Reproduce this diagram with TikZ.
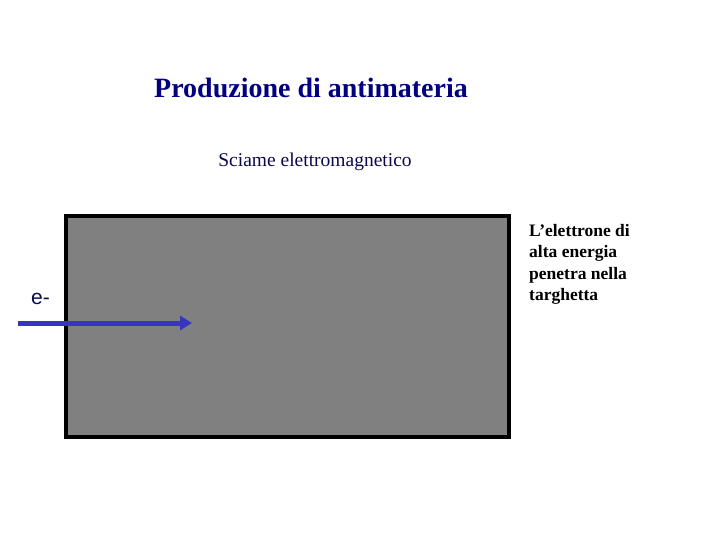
\documentclass[tikz,border=0pt]{standalone}
\usepackage{fontspec}
\setmainfont{Liberation Serif}
\newfontfamily\arialfont{Liberation Sans}
\usetikzlibrary{arrows.meta}
\definecolor{titleblue}{HTML}{000080}
\definecolor{subblue}{HTML}{0A0A4A}
\definecolor{arrowblue}{HTML}{3535BE}
\definecolor{targetgray}{HTML}{808080}
\tikzset{
  titletext/.style={font=\fontsize{28}{33}\selectfont\bfseries, text=titleblue, inner sep=0pt},
  subtext/.style={font=\fontsize{19.5}{23}\selectfont, text=subblue, inner sep=0pt},
  sidetext/.style={font=\fontsize{17.5}{21.5}\selectfont\bfseries, text=black, inner sep=0pt, align=left},
  elabel/.style={font=\arialfont\fontsize{21}{25}\selectfont, text=subblue, inner sep=0pt},
  target/.style={draw=black, line width=4pt, fill=targetgray},
  beam/.style={draw=arrowblue, line width=5pt, -{Triangle[length=12pt,width=14pt]}}
}
\begin{document}
\begin{tikzpicture}[x=1pt,y=-1pt]
\useasboundingbox (0,0) rectangle (720,540);
\node[titletext, anchor=base] (title) at (311,98) {Produzione di antimateria};
\node[subtext, anchor=base] (sub) at (315,167) {Sciame elettromagnetico};
\draw[target] (66,216) rectangle (509,437);
\node[elabel, anchor=base west] (e) at (31,304) {e-};
\coordinate (start) at (18,323);
\coordinate (tip) at (192,323);
\draw[beam] (start) -- (tip);
\node[sidetext, anchor=north west] (side) at (529,224) {L’elettrone di\\alta energia\\penetra nella\\targhetta};
\end{tikzpicture}
\end{document}
